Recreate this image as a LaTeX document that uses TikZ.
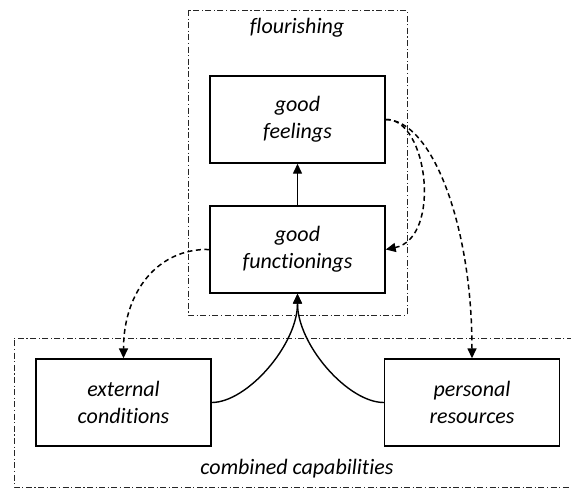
\documentclass[tikz,border=0pt]{standalone}
\usepackage{fontspec}
\setmainfont{Carlito}[Ligatures=NoCommon]
\usetikzlibrary{arrows.meta}
\tikzset{
  box/.style={draw=black, line width=1.4pt, minimum width=175pt, minimum height=87pt, inner sep=0pt, align=center, font=\fontsize{22}{27}\selectfont\itshape},
  region/.style={draw=black!85, line width=0.9pt, dash pattern=on 6pt off 2.5pt on 1.2pt off 2.5pt},
  lbl/.style={font=\fontsize{22}{27}\selectfont\itshape, inner sep=0pt},
  tip/.style={-{Triangle[length=10pt,width=9pt]}},
  solidarrow/.style={tip, line width=1.4pt},
  dasharrow/.style={tip, line width=1.5pt, dash pattern=on 5pt off 3.5pt},
}
\begin{document}
\begin{tikzpicture}[x=1pt,y=-1pt]
\useasboundingbox (0,0) rectangle (571,488);
\clip (0,0) rectangle (571,488);
% regions
\draw[region] (188,10) rectangle (407,315);
\draw[region] (585,338) -- (14,338) -- (14,487) -- (585,487);
% labels
\node[lbl] (flour) at (297,28) {flourishing};
\node[lbl] (comb) at (297,469) {combined capabilities};
% boxes
\node[box] (feel) at (297.5,119.5) {good\\feelings};
\node[box] (func) at (297.5,249.5) {good\\functionings};
\node[box] (ext) at (123.5,402.5) {external\\conditions};
\node[box] (pers) at (472,402.5) {personal\\resources};
% connectors
\draw[solidarrow] (func.north) -- (feel.south);
\draw[solidarrow] (ext.east) .. controls (247,402.5) and (297.5,345) .. (func.south);
\draw[solidarrow] (pers.west) .. controls (348,402.5) and (297.5,345) .. (func.south);
\draw[dasharrow] (feel.east) .. controls (428,118) and (442,238) .. (func.east);
\draw[dasharrow] (feel.east) .. controls (432,120) and (472,225) .. (pers.north);
\draw[dasharrow] (func.west) .. controls (158,248) and (123.5,292) .. (ext.north);
\end{tikzpicture}
\end{document}
